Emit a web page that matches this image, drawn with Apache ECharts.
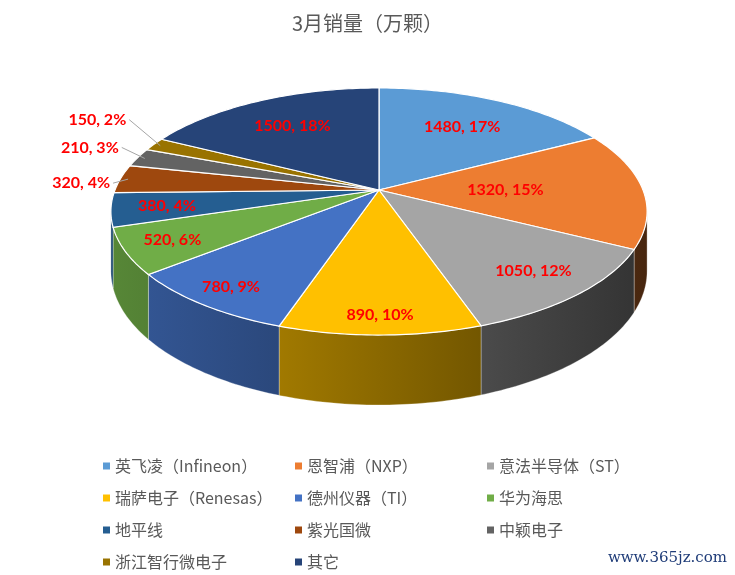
<!DOCTYPE html>
<html><head><meta charset="UTF-8"><title>3月销量</title>
<style>html,body{margin:0;padding:0;background:#fff}#chart{width:735px;height:575px}</style>
<script src="https://cdn.jsdelivr.net/npm/echarts@6/dist/echarts.min.js"></script>
</head>
<body>
<div id="chart"></div>
<script>
const names = ['英飞凌（Infineon）', '恩智浦（NXP）', '意法半导体（ST）', '瑞萨电子（Renesas）', '德州仪器（TI）',
    '华为海思', '地平线', '紫光国微', '中颖电子', '浙江智行微电子', '其它'];
const values = [1480, 1320, 1050, 890, 780, 520, 380, 320, 210, 150, 1500];
const percents = [17, 15, 12, 10, 9, 6, 4, 4, 3, 2, 18];
const colors = ['#5B9BD5', '#ED7D31', '#A5A5A5', '#FFC000', '#4472C4', '#70AD47',
    '#255E91', '#9E480E', '#636363', '#997300', '#264478'];

const chart = echarts.init(document.getElementById('chart'));

// 透视饼图参数
const CX = 379, CY = 190, RX = 264, RY = 119.8, P = 0.174, DEPTH = 57.8;
const total = values.reduce((a, b) => a + b, 0);
const starts = [];
let acc = 0;
values.forEach(v => { starts.push(acc / total * 360); acc += v; });
const rad = d => d * Math.PI / 180;

function proj(phi, f) {
    const u = Math.sin(rad(phi)) * f, v = Math.cos(rad(phi)) * f;
    const d = 1 + P * v;
    return [CX + RX * u / d, CY - RY * v / d];
}
function bottom(phi) {
    const p = proj(phi, 1);
    const d = 1 + P * Math.cos(rad(phi));
    return [p[0], p[1] + DEPTH / d];
}
function shade(hex, k) {
    const n = parseInt(hex.slice(1), 16);
    const r = Math.round((n >> 16 & 255) * k), g = Math.round((n >> 8 & 255) * k), b = Math.round((n & 255) * k);
    return 'rgb(' + r + ',' + g + ',' + b + ')';
}
// 侧面可见范围
const W0 = Math.acos(-P) * 180 / Math.PI, W1 = 360 - W0;

function renderItem(params, api) {
    const i = params.dataIndex;
    const a0 = starts[i];
    const a1 = a0 + api.value(0) / total * 360;
    const color = colors[i];
    const children = [];

    // 侧面
    const s0 = Math.max(a0, W0), s1 = Math.min(a1, W1);
    if (s1 > s0) {
        const topPts = [], botPts = [];
        for (let a = s0; a < s1; a += 1) { topPts.push(proj(a, 1)); botPts.push(bottom(a)); }
        topPts.push(proj(s1, 1)); botPts.push(bottom(s1));
        children.push({
            type: 'polygon', z2: 1,
            shape: { points: topPts.concat(botPts.reverse()) },
            style: {
                fill: { type: 'linear', x: 110, y: 0, x2: 650, y2: 0, global: true,
                    colorStops: [{ offset: 0, color: shade(color, 0.78) }, { offset: 1, color: shade(color, 0.3) }] },
                stroke: 'rgba(255,255,255,0.5)', lineWidth: 0.6
            }
        });
    }

    // 顶面
    const pts = [proj(0, 0)];
    for (let a = a0; a < a1; a += 1) pts.push(proj(a, 1));
    pts.push(proj(a1, 1));
    children.push({
        type: 'polygon', z2: 2,
        shape: { points: pts },
        style: { fill: color, stroke: '#fff', lineWidth: 1.2 }
    });

    // 标签
    const mid = (a0 + a1) / 2;
    const text = api.value(0) + ', ' + percents[i] + '%';
    const labelFont = 'bold 16px Lato, "Open Sans", sans-serif';
    if (api.value(0) < 350) {
        let k = 0;
        for (let j = 0; j < i; j++) if (values[j] < 350) k++;
        const rim = proj(mid, 0.97);
        const lx = rim[0] - 18 - 8 * k, ly = rim[1] + 4 - 15 * k;
        children.push({
            type: 'polyline', z2: 4,
            shape: { points: [[lx + 3, ly], rim] },
            style: { stroke: '#A6A6A6', lineWidth: 1, fill: null }
        });
        children.push({
            type: 'text', z2: 5,
            style: { text: text, x: lx, y: ly, fill: '#FF0000', font: labelFont, align: 'right', verticalAlign: 'middle' }
        });
    } else {
        const u = Math.sin(rad(mid)), v = Math.cos(rad(mid));
        const f = 0.78 - 0.1 * v - 0.3 * Math.pow(Math.max(0, u), 4);
        const p = proj(mid, f);
        children.push({
            type: 'text', z2: 5,
            style: { text: text, x: p[0], y: p[1], fill: '#FF0000', font: labelFont, align: 'center', verticalAlign: 'middle' }
        });
    }
    return { type: 'group', children: children };
}

chart.setOption({
    animation: false,
    backgroundColor: '#fff',
    color: colors,
    title: {
        text: '3月销量（万颗）',
        left: 'center', top: 8,
        textStyle: { fontSize: 20, fontWeight: 'normal', color: '#595959', fontFamily: '"Noto Sans CJK SC", sans-serif' }
    },
    legend: {
        left: 98, top: 445, width: 600,
        itemWidth: 7, itemHeight: 7, itemGap: 0, icon: 'rect',
        selectedMode: false,
        textStyle: { fontSize: 16, color: '#595959', width: 180, height: 32, lineHeight: 32,
            fontFamily: '"Noto Sans CJK SC", sans-serif' },
        data: names
    },
    graphic: [{
        type: 'text', right: 8, top: 551,
        style: { text: 'www.365jz.com', fill: '#1F3C78', font: '15px "DejaVu Serif", serif' }
    }],
    series: [
        {
            // 仅供图例使用
            type: 'pie', radius: [0, 0], center: [CX, CY], silent: true,
            label: { show: false }, labelLine: { show: false },
            data: names.map((n, i) => ({ name: n, value: values[i] }))
        },
        {
            type: 'custom', coordinateSystem: 'none',
            renderItem: renderItem,
            data: values.map((v, i) => ({ name: names[i], value: [v] }))
        }
    ]
});
</script>
</body></html>
